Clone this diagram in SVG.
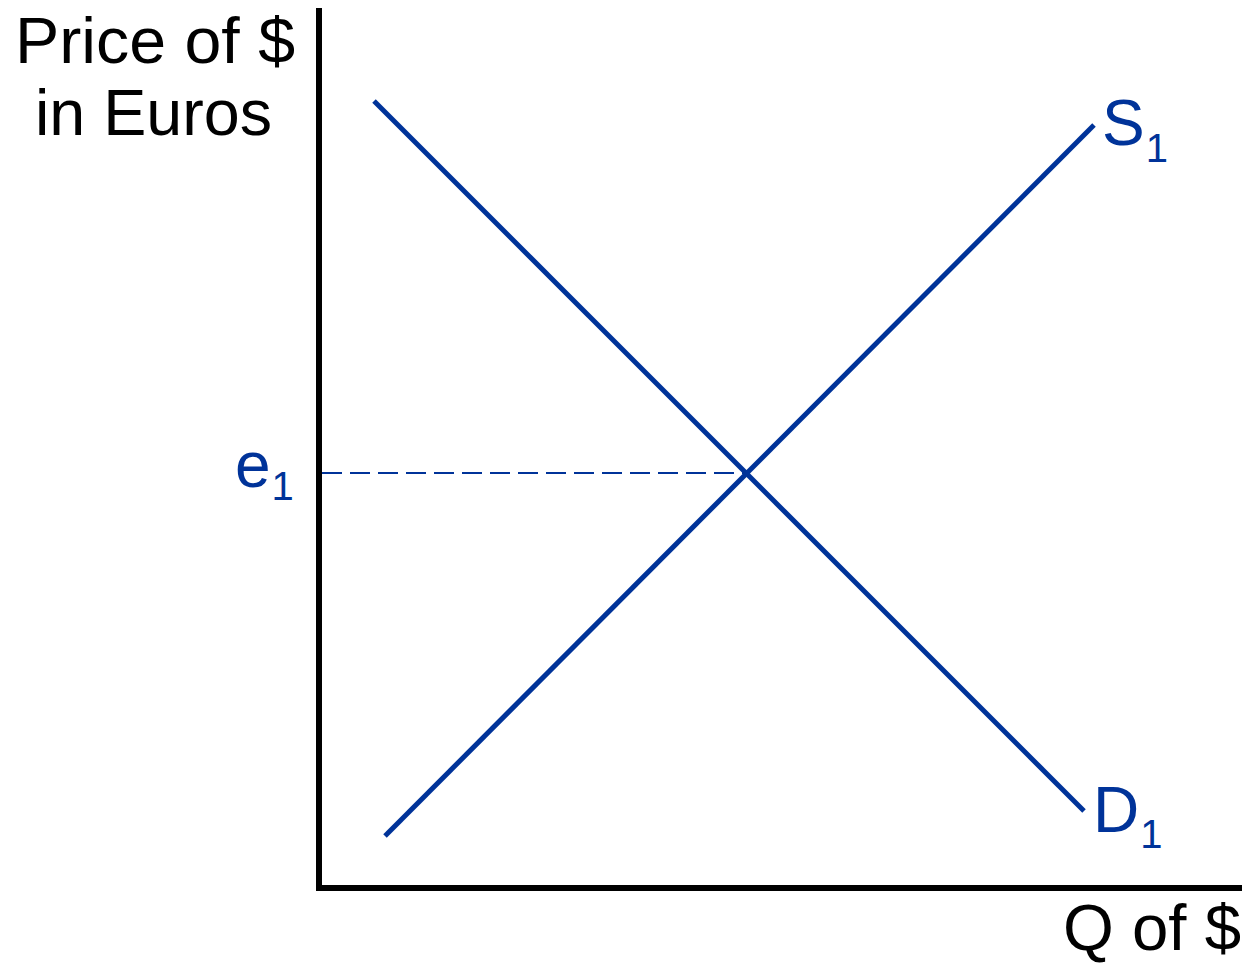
<svg xmlns="http://www.w3.org/2000/svg" width="1247" height="966" viewBox="0 0 1247 966">
<style>
.ax{stroke:#000;stroke-width:6;fill:none}
.cv{stroke:#003399;stroke-width:5;fill:none}
.dash{stroke:#003399;stroke-width:2;stroke-dasharray:20 8;fill:none}
.t{font-family:"Liberation Sans",Arial,sans-serif;font-size:64px;fill:#000}
.b{font-family:"Liberation Sans",Arial,sans-serif;font-size:64px;fill:#003399}
.sub{font-size:40px}
</style>
<rect width="1247" height="966" fill="#fff"/>
<g id="axes">
<path class="ax" d="M319 8 V888 H1242"/>
</g>
<g id="connectors">
<line class="dash" x1="322" y1="473" x2="745" y2="473"/>
</g>
<g id="demand">
<line class="cv" x1="374" y1="101" x2="1084" y2="811"/>
</g>
<g id="supply">
<line class="cv" x1="385" y1="836" x2="1094" y2="125"/>
</g>
<g id="labels">
<text class="t" x="15" y="63" textLength="280" lengthAdjust="spacingAndGlyphs">Price of $</text>
<text class="t" x="35" y="135" textLength="237" lengthAdjust="spacingAndGlyphs">in Euros</text>
<text class="t" x="1063" y="950" textLength="178" lengthAdjust="spacingAndGlyphs">Q of $</text>
<text class="b" x="235" y="487">e<tspan class="sub" dx="1" dy="13">1</tspan></text>
<text class="b" x="1102" y="145">S<tspan class="sub" dx="1" dy="17">1</tspan></text>
<text class="b" x="1093" y="832">D<tspan class="sub" dx="1" dy="16">1</tspan></text>
</g>
</svg>
